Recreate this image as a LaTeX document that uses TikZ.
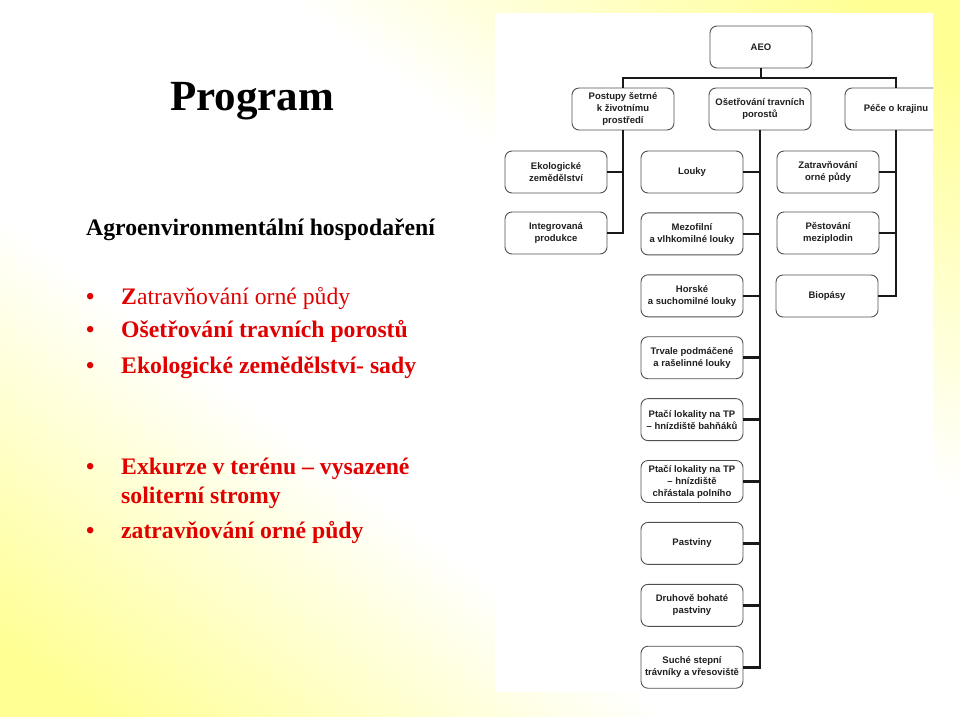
\documentclass[tikz,border=0pt]{standalone}
\usepackage{fontspec}
\setmainfont{Liberation Serif}
\newfontfamily\orgfont{Liberation Sans}
\usetikzlibrary{positioning,calc}

\definecolor{itemred}{RGB}{225,0,0}
\definecolor{boxline}{RGB}{80,80,80}
% pale yellow in two corners, white along the other diagonal
\pgfdeclarefunctionalshading{slidebg}{\pgfpoint{0bp}{0bp}}{\pgfpoint{100bp}{100bp}}{}{
  add 100 sub 50 div abs
  0.3 sub 0.6 div
  dup 0 lt {pop 0} if dup 1 gt {pop 1} if
  0.42 mul 1 exch sub
  1 1 3 -1 roll
}

\tikzset{
  orgbox/.style={draw=boxline,line width=0.9pt,rounded corners=7pt,fill=white,minimum width=102pt,minimum height=42pt,align=center,inner sep=1pt,text=black!88,font=\orgfont\bfseries\fontsize{9.5}{12}\selectfont},
  orgline/.style={line width=2.6pt,black!90},
  itemtext/.style={text=itemred,anchor=base west,inner sep=0pt,font=\fontsize{23.7}{28}\selectfont\bfseries},
}

\begin{document}
\begin{tikzpicture}[x=1pt,y=-1pt]
\useasboundingbox (0,0) rectangle (960,716);
\shade[shading=slidebg] (0,0) rectangle (960,716);

% left half of the slide
\node[anchor=base west,inner sep=0pt,font=\fontsize{43}{50}\selectfont\bfseries] (title) at (170,110) {Program};
\node[anchor=base west,inner sep=0pt,font=\fontsize{23.7}{28}\selectfont\bfseries] (subtitle) at (86,235) {Agroenvironmentální hospodaření};

\foreach \y [count=\n] in {304,337,373,474,538}
  \node[itemtext] (dot\n) at (86,\y) {•};
\node[itemtext] (item1) at (121,304) {\mdseries\textbf{Z}atravňování orné půdy};
\node[itemtext] (item2) at (121,337) {Ošetřování travních porostů};
\node[itemtext] (item3) at (121,373) {Ekologické zemědělství- sady};
\node[itemtext] (item4) at (121,474) {Exkurze v terénu – vysazené};
\node[itemtext] (item4b) at (121,503) {soliterní stromy};
\node[itemtext] (item5) at (121,538) {zatravňování orné půdy};

% organisation chart
\fill[white] (495,13) rectangle (933,692);

\node[orgbox] (aeo) at (761,47) {AEO};
\node[orgbox] (postupy) at (623,109) {Postupy šetrné\\k životnímu\\prostředí};
\node[orgbox] (osetr) at (760,109) {Ošetřování travních\\porostů};
\begin{scope}
  \clip (495,13) rectangle (933,692);
  \node[orgbox] (pece) at (896,109) {Péče o krajinu};
\end{scope}

\node[orgbox] (ekol) at (556,172) {Ekologické\\zemědělství};
\node[orgbox] (integ) at (556,233) {Integrovaná\\produkce};

\foreach \t [count=\n] in {Louky,{Mezofilní\\a vlhkomilné louky},{Horské\\a suchomilné louky},{Trvale podmáčené\\a rašelinné louky},{Ptačí lokality na TP\\– hnízdiště bahňáků},{Ptačí lokality na TP\\– hnízdiště\\chřástala polního},Pastviny,{Druhově bohaté\\pastviny},{Suché stepní\\trávníky a vřesoviště}}
  \node[orgbox] (louka\n) at (692,{172+(\n-1)*61.9}) {\t};

\node[orgbox] (zatrav) at (828,172) {Zatravňování\\orné půdy};
\node[orgbox] (pest) at (828,233) {Pěstování\\meziplodin};
\node[orgbox] (biop) at (827,296) {Biopásy};

\coordinate (bus) at (761,78);
\draw[orgline] (aeo.south) -- (bus);
\draw[orgline] (postupy.north) |- (bus) -| (pece.north);

\draw[orgline] (postupy.south) -- (postupy.south |- integ.east) -- ++(0,1.3);
\foreach \b in {ekol,integ}
  \draw[orgline] (\b.east) -- (\b.east -| postupy.south);

\draw[orgline] (osetr.south) -- (osetr.south |- louka9.east) -- ++(0,1.3);
\foreach \n in {1,...,9}
  \draw[orgline] (louka\n.east) -- (louka\n.east -| osetr.south);

\draw[orgline] (pece.south) -- (pece.south |- biop.east) -- ++(0,1.3);
\foreach \b in {zatrav,pest,biop}
  \draw[orgline] (\b.east) -- (\b.east -| pece.south);
\end{tikzpicture}
\end{document}
